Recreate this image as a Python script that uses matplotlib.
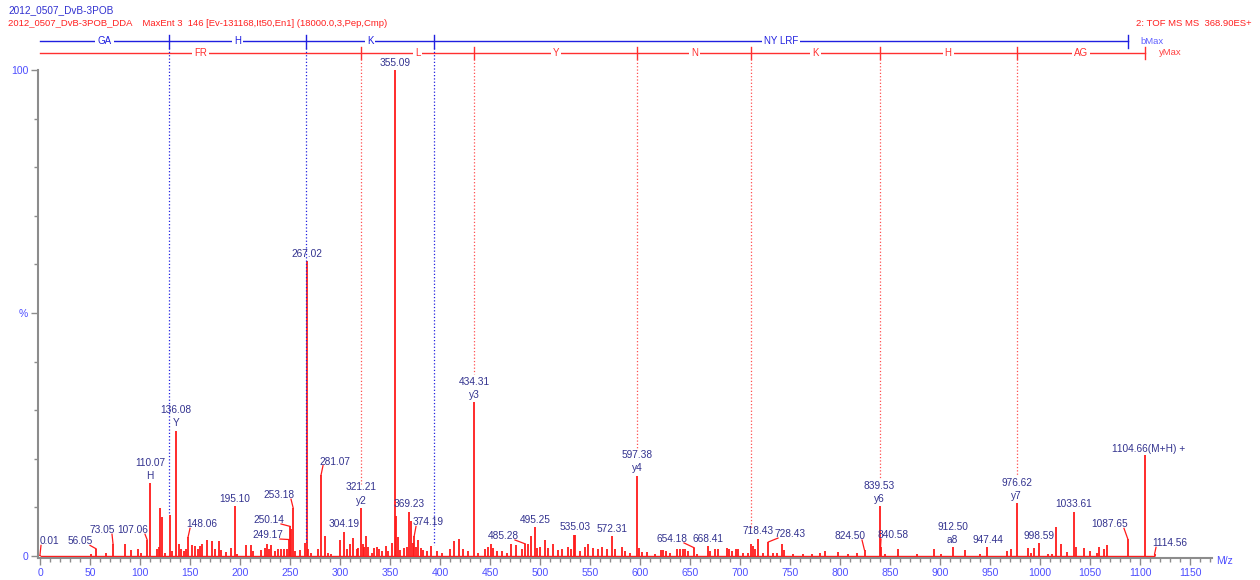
import matplotlib
matplotlib.use("Agg")
import matplotlib.pyplot as plt
from matplotlib.ticker import MultipleLocator, FixedLocator

plt.rcParams['font.family'] = ['Liberation Sans', 'DejaVu Sans']

# spectrum peaks (m/z, relative intensity %)
peak_mz = [
    0.01, 51, 56.05, 66, 73.05, 85, 91, 98, 101, 107.06, 110.07, 117, 119, 120, 122, 125,
    129.5, 131.5, 136.08, 139, 141, 144, 146, 148.06, 151.5, 155, 158, 160, 162, 167, 172,
    175, 179, 181, 186, 191, 195.10, 197, 206, 211, 213, 221, 225, 226.5, 229, 231, 235,
    238, 241, 244, 246.5, 249.17, 250.14, 251.1, 253.18, 255, 260, 265, 267.02, 268, 271,
    278, 281.07, 285, 288, 291,
    300, 304.19, 307, 310, 313, 317, 318, 321.21, 322.5, 324, 326, 328, 332, 334, 337, 339,
    342, 346, 348, 352, 355.09, 356, 358, 360, 364, 367, 369.23, 371, 373, 374.19, 376, 378,
    381, 383, 387, 391, 397, 402, 410, 414, 419, 423, 428, 434.31, 438, 445, 448, 451, 453,
    457, 462, 467, 471, 476, 482, 485.28, 488, 491, 495.25, 497, 500, 505, 508, 513, 518,
    522, 528, 531, 534, 535.03, 540, 545, 548, 553, 558, 562, 567, 572.31, 575, 582, 585, 590,
    597.38, 599, 602, 607, 615, 621, 623, 626, 630, 637, 640, 643, 645, 648, 654.18, 657,
    668.41, 670, 675, 678, 687, 689, 692, 696, 698, 703, 708, 711, 713, 715, 718.43, 723,
    728.43, 733, 737, 742, 744, 753, 763, 772, 780, 785, 798, 808, 817, 824.50, 839.53,
    840.58, 845, 858, 877,
    894, 901, 912.50, 925, 940, 947.44, 967, 971, 976.62, 988, 991, 994, 998.59, 1008, 1012,
    1016, 1021, 1027, 1033.61, 1036, 1044, 1050, 1057, 1059, 1064, 1067, 1087.65, 1104.66,
    1114.56,
]
peak_pct = [
    0.3, 0.5, 1.5, 0.7, 2.5, 2.5, 1.2, 1.5, 0.7, 3.4, 15.0, 1.4, 1.9, 9.9, 8.0, 0.7,
    8.4, 1.0, 25.8, 2.4, 1.5, 1.0, 1.4, 3.9, 2.3, 2.0, 1.4, 2.0, 2.5, 3.4, 3.2,
    1.4, 3.2, 1.2, 0.9, 1.7, 10.2, 0.5, 2.2, 2.3, 1.0, 1.2, 1.7, 2.4, 1.5, 2.3, 1.0,
    1.4, 1.4, 1.4, 1.4, 3.4, 6.1, 5.6, 9.9, 1.0, 1.2, 2.7, 60.7, 1.4, 0.7,
    1.4, 16.7, 4.1, 0.7, 0.5,
    3.4, 5.0, 1.5, 2.4, 3.8, 1.4, 1.7, 9.9, 2.5, 1.8, 4.1, 1.8, 0.7, 1.7, 1.9, 1.4,
    1.0, 2.0, 1.0, 2.7, 100.0, 8.2, 3.9, 1.2, 1.7, 1.8, 9.1, 7.2, 2.7, 4.1, 1.8, 3.4,
    1.7, 1.2, 1.0, 2.0, 1.0, 0.7, 1.4, 3.2, 3.6, 1.4, 1.0, 31.6, 0.7, 1.4, 1.8, 2.4, 1.7,
    1.0, 1.0, 0.7, 2.5, 2.2, 1.5, 2.5, 2.4, 4.1, 5.9, 1.7, 1.8, 3.4, 1.7, 2.5, 1.2,
    1.4, 1.8, 1.4, 4.4, 4.4, 1.0, 1.8, 2.4, 1.7, 1.4, 1.8, 1.4, 4.1, 1.4, 1.8, 1.0, 0.7,
    16.5, 1.7, 0.9, 0.9, 0.5, 1.2, 1.2, 1.0, 0.7, 1.4, 1.4, 1.5, 1.4, 1.0, 1.7, 0.5,
    2.0, 1.0, 1.4, 1.4, 1.7, 1.5, 1.0, 1.5, 1.4, 0.7, 0.7, 2.4, 2.0, 1.4, 3.6, 0.7,
    2.9, 0.7, 0.7, 2.5, 1.2, 0.5, 0.5, 0.5, 0.7, 1.0, 0.9, 0.5, 0.7, 1.2, 10.2,
    1.9, 0.5, 1.4, 0.5,
    1.5, 0.5, 1.8, 1.2, 0.4, 1.8, 1.0, 1.4, 10.9, 1.7, 0.7, 1.7, 2.7, 0.4, 0.4,
    5.9, 2.4, 0.9, 9.1, 1.8, 1.7, 1.0, 0.7, 1.8, 1.5, 2.2, 3.6, 20.7,
    0.4,
]

# labelled peaks
label_mz = [0.01, 56.05, 73.05, 107.06, 110.07, 136.08, 148.06, 195.10, 249.17, 250.14,
            253.18, 267.02, 281.07, 304.19, 321.21, 355.09, 369.23, 374.19, 434.31, 485.28,
            495.25, 535.03, 572.31, 597.38, 654.18, 668.41, 718.43, 728.43, 824.50, 839.53,
            840.58, 912.50, 947.44, 976.62, 998.59, 1033.61, 1087.65, 1104.66, 1114.56]
ion_names = {110.07: 'H', 136.08: 'Y', 321.21: 'y2', 434.31: 'y3', 597.38: 'y4',
             839.53: 'y6', 912.50: 'a8', 976.62: 'y7'}

# sequence ladders
b_bounds = [0, 129.07, 266.13, 394.22, 1087.6]
b_names = ['GA', 'H', 'K', 'NY LRF']
y_bounds = [0, 321.21, 434.31, 597.38, 711.4, 839.53, 976.62, 1104.66]
y_names = ['FR', 'L', 'Y', 'N', 'K', 'H', 'AG']

# labels moved off their peak (text centre x, text bottom y)
label_offsets = {
    0.01: (9, 2.0), 56.05: (40, 2.0), 73.05: (62, 4.3), 107.06: (93, 4.3),
    148.06: (162, 5.5), 249.17: (228, 3.3), 250.14: (229, 6.4), 253.18: (239, 11.5),
    281.07: (295, 18.4), 374.19: (388, 5.9), 485.28: (463, 3.1), 654.18: (632, 2.5),
    728.43: (750, 3.5), 824.50: (810, 3.1), 840.58: (853, 3.3), 1087.65: (1070, 5.5),
    1114.56: (1130, 1.6),
}

RED = '#ff1a1a'
NAVY = '#33338f'
TICKBLUE = '#4d4dff'
BLUE = '#2020e0'
GREY = '#8c8c8c'

fig = plt.figure(figsize=(12.6, 5.8), dpi=100)
ax = fig.add_axes([38 / 1260, 22 / 580, 1174 / 1260, 488 / 580])
ax.set_xlim(-2, 1172)
ax.set_ylim(-0.4, 100)

ax.hlines(0.1, 0, 1115, color=RED, lw=1.0)
ax.vlines(peak_mz, 0, peak_pct, color=RED, lw=1.3)

pct = dict(zip(peak_mz, peak_pct))
fs = 7.3
for mz in label_mz:
    h = pct[mz]
    txt = '%.2f' % mz
    if mz == 1104.66:
        ax.text(mz - 33, h + 0.3, txt + '(M+H) +', color=NAVY, fontsize=fs,
                ha='left', va='bottom')
        continue
    if mz in label_offsets:
        tx, ty = label_offsets[mz]
        ax.text(tx, ty, txt, color=NAVY, fontsize=fs, ha='center', va='bottom')
        half = len(txt) * 2.0
        if tx < mz:
            ex = tx + half
        else:
            ex = tx - half
        ax.plot([ex, mz], [ty + 0.2, h], color=RED, lw=0.9)
        continue
    if mz in ion_names:
        ax.text(mz, h + 0.5, ion_names[mz], color=NAVY, fontsize=fs, ha='center', va='bottom')
        ax.text(mz, h + 3.2, txt, color=NAVY, fontsize=fs, ha='center', va='bottom')
    else:
        ax.text(mz, h + 0.5, txt, color=NAVY, fontsize=fs, ha='center', va='bottom')

# ladders drawn above the plot area
yb, yy = 105.9, 103.5
ax.plot([b_bounds[0], b_bounds[-1]], [yb, yb], color=BLUE, lw=1.0, clip_on=False)
ax.plot([y_bounds[0], y_bounds[-1]], [yy, yy], color='#ff3030', lw=1.0, clip_on=False)
for i, name in enumerate(b_names):
    ax.text((b_bounds[i] + b_bounds[i + 1]) / 2, yb, name, color=BLUE, fontsize=7,
            ha='center', va='center', clip_on=False,
            bbox=dict(facecolor='white', edgecolor='none', pad=1.5))
for i, name in enumerate(y_names):
    ax.text((y_bounds[i] + y_bounds[i + 1]) / 2, yy, name, color='#ff3030', fontsize=7,
            ha='center', va='center', clip_on=False,
            bbox=dict(facecolor='white', edgecolor='none', pad=1.5))
for b in b_bounds[1:]:
    ax.plot([b, b], [yb - 1.3, yb + 1.3], color=BLUE, lw=1.0, clip_on=False)
for y in y_bounds[1:]:
    ax.plot([y, y], [yy - 1.3, yy + 1.3], color='#ff3030', lw=1.0, clip_on=False)

# dotted drop lines from the ladders
b_drop = [8.6, 2.9, 2.2]
for b, low in zip(b_bounds[1:4], b_drop):
    ax.plot([b, b], [yb - 1.3, low], color=BLUE, lw=0.9, ls=':', clip_on=False)
y_drop = [14.8, 37.5, 21.8, 5.8, 16.0, 16.6]
for y, low in zip(y_bounds[1:7], y_drop):
    ax.plot([y, y], [yy - 1.3, low], color='#ff5050', lw=0.9, ls=':', clip_on=False)
ax.text(b_bounds[-1] + 13, yb, 'bMax', color='#6060ff', fontsize=6.8, va='center',
        clip_on=False)
ax.text(y_bounds[-1] + 14, yy, 'yMax', color='#ff4040', fontsize=6.8, va='center',
        clip_on=False)

# axes styling
for side in ['top', 'right']:
    ax.spines[side].set_visible(False)
for side in ['left', 'bottom']:
    ax.spines[side].set_color(GREY)
    ax.spines[side].set_linewidth(1.5)
ax.spines['left'].set_bounds(-0.4, 100)
ax.xaxis.set_major_locator(MultipleLocator(50))
ax.xaxis.set_minor_locator(MultipleLocator(10))
ax.set_xticks(list(range(0, 1151, 50)))
ax.yaxis.set_major_locator(FixedLocator([0, 50, 100]))
ax.yaxis.set_minor_locator(MultipleLocator(10))
ax.set_yticklabels(['0', '%', '100'])
ax.tick_params(which='both', colors=GREY, labelcolor=TICKBLUE, labelsize=7.5, width=1)
ax.tick_params(which='major', length=5, pad=2)
ax.tick_params(which='minor', length=3)

fig.text(1216 / 1260, 1 - 561 / 580, 'M/z', color=TICKBLUE, fontsize=7.5, va='center')
fig.text(8 / 1260, 1 - 10 / 580, '2012_0507_DvB-3POB', color='#3030d0', fontsize=7.2,
         va='center')
fig.text(8 / 1260, 1 - 24 / 580,
         '2012_0507_DvB-3POB_DDA    MaxEnt 3  146 [Ev-131168,It50,En1] (18000.0,3,Pep,Cmp)',
         color='#ff2020', fontsize=6.8, va='center')
fig.text(1252 / 1260, 1 - 24 / 580, '2: TOF MS MS  368.90ES+', color='#ff2020',
         fontsize=6.8, va='center', ha='right')

fig.savefig('out.png', dpi=100)
